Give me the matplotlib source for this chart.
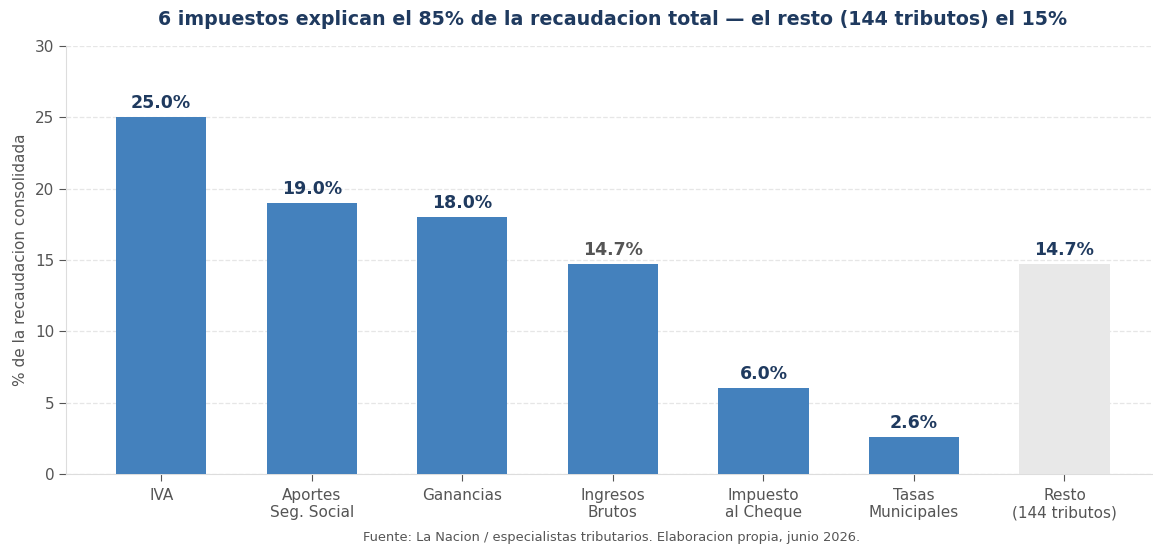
import numpy as np
import matplotlib.pyplot as plt

categorias = ["IVA", "Aportes\nSeg. Social", "Ganancias", "Ingresos\nBrutos",
              "Impuesto\nal Cheque", "Tasas\nMunicipales", "Resto\n(144 tributos)"]
valores = [25.0, 19.0, 18.0, 14.7, 6.0, 2.6, 14.7]
colores = ["#4481bd"] * 6 + ["#e8e8e8"]
color_etiqueta = ["#1f3a5f", "#1f3a5f", "#1f3a5f", "#555555", "#1f3a5f", "#1f3a5f", "#1f3a5f"]

fig = plt.figure(figsize=(11.53, 5.46), dpi=100)
ax = fig.add_axes([0.0575, 0.132, 0.948, 0.784])

x = np.arange(len(categorias))
ax.bar(x, valores, width=0.6, color=colores, zorder=3)
for xi, v, c in zip(x, valores, color_etiqueta):
    ax.text(xi, v + 0.35, f"{v:.1f}%", ha="center", va="bottom",
            fontsize=12.5, fontweight="bold", color=c, zorder=4)

ax.set_ylim(0, 30)
ax.set_yticks(range(0, 31, 5))
ax.set_xticks(x)
ax.set_xticklabels(categorias, fontsize=11, color="#555555")
ax.tick_params(axis="y", labelsize=11, labelcolor="#555555", color="#555555", length=5)
ax.tick_params(axis="x", color="#555555", length=5, pad=5)
ax.set_ylabel("% de la recaudacion consolidada", fontsize=11, color="#555555", labelpad=5)
ax.yaxis.grid(True, linestyle="--", color="#e6e6e6", linewidth=0.9, zorder=0)
ax.set_axisbelow(True)
for s in ["top", "right"]:
    ax.spines[s].set_visible(False)
for s in ["left", "bottom"]:
    ax.spines[s].set_color("#dddddd")

ax.set_title("6 impuestos explican el 85% de la recaudacion total \u2014 el resto (144 tributos) el 15%",
             fontsize=13.7, fontweight="bold", color="#1f3a5f", pad=15)
fig.text(0.530, 0.003, "Fuente: La Nacion / especialistas tributarios. Elaboracion propia, junio 2026.",
         ha="center", va="bottom", fontsize=9.4, color="#555555")

fig.savefig("out.png", dpi=100)
